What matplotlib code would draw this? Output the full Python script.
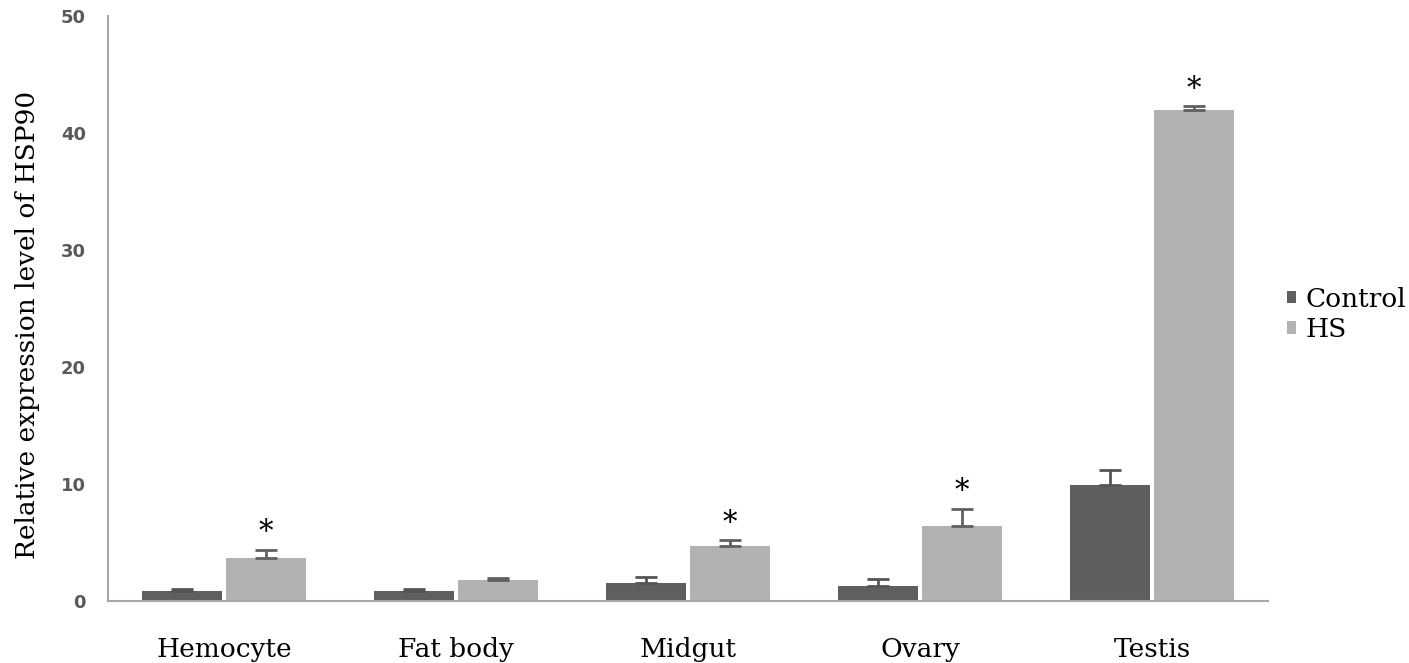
import matplotlib.pyplot as plt
import numpy as np

# 数据
tissues = ['Hemocyte', 'Fat body', 'Midgut', 'Ovary', 'Testis']
control = [0.85, 0.85, 1.5, 1.3, 9.9]
control_err = [0.15, 0.15, 0.55, 0.6, 1.3]
hs = [3.7, 1.8, 4.7, 6.4, 42.0]
hs_err = [0.7, 0.2, 0.5, 1.5, 0.3]
signif = [True, False, True, True, True]

plt.rcParams['font.family'] = ['DejaVu Serif']

fig = plt.figure(figsize=(14.09, 6.63), dpi=100)
ax = fig.add_axes([0.0767, 0.0935, 0.8233, 0.882])

x = np.arange(len(tissues))
w = 0.345
gap = 0.009
ax.bar(x - w / 2 - gap, control, w, color='#5f5f5f', label='Control',
       yerr=[np.zeros(len(control)), control_err],
       error_kw=dict(ecolor='#555555', capsize=8, capthick=2, elinewidth=2))
ax.bar(x + w / 2 + gap, hs, w, color='#b2b2b2', label='HS',
       yerr=[np.zeros(len(hs)), hs_err],
       error_kw=dict(ecolor='#606060', capsize=8, capthick=2, elinewidth=2))

# 显著性标记
for i in range(len(tissues)):
    if signif[i]:
        ax.text(x[i] + w / 2 + gap, hs[i] + hs_err[i] + 0.3, '*',
                ha='center', va='bottom', fontsize=21)

ax.set_xlim(-0.5, len(tissues) - 0.5)
ax.set_ylim(0, 50)
ax.set_yticks(range(0, 51, 10))
ax.set_xticks(x)
ax.set_xticklabels(tissues, fontsize=19)
ax.tick_params(axis='x', length=0, pad=26)
ax.tick_params(axis='y', length=0, pad=16, labelcolor='#595959')
for lab in ax.get_yticklabels():
    lab.set_family('DejaVu Sans')
    lab.set_fontweight('bold')
    lab.set_fontsize(13)
ax.set_ylabel('Relative expression level of HSP90', fontsize=19)
ax.yaxis.set_label_coords(-0.059, 0.472)

for s in ['top', 'right']:
    ax.spines[s].set_visible(False)
for s in ['left', 'bottom']:
    ax.spines[s].set_color('#a6a6a6')
    ax.spines[s].set_linewidth(1.5)

ax.legend(loc='center left', bbox_to_anchor=(0.906, 0.526), bbox_transform=fig.transFigure,
          frameon=False, fontsize=19, handlelength=0.35, handleheight=0.35,
          handletextpad=0.35, labelspacing=0.2, borderaxespad=0)

plt.savefig('out.png', dpi=100)
